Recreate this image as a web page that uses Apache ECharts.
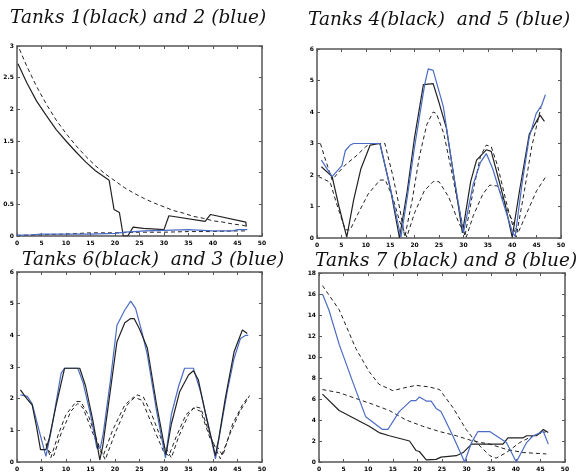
<!DOCTYPE html>
<html><head><meta charset="utf-8">
<script src="https://cdn.jsdelivr.net/npm/echarts@6/dist/echarts.min.js"></script>
<style>html,body{margin:0;padding:0;background:#fff}#c{width:576px;height:472px}</style>
</head><body><div id="c"></div>
<script>
// ---------- data ----------
const titles = ["Tanks 1(black) and 2 (blue)", "Tanks 4(black)  and 5 (blue)", "Tanks 6(black)  and 3 (blue)", "Tanks 7 (black) and 8 (blue)"];
const xTicks = [0,5,10,15,20,25,30,35,40,45,50];

// Panel 1 (tanks 1 and 2)
const p1BlackX = [0.2,2,4,6,8,10,12,14,16,18.8,19.8,20.9,21.7,22.6,23,23.7,25.8,30,31,38.4,39.5,46.7,46.8];
const p1BlackY = [2.72,2.42,2.13,1.9,1.68,1.5,1.33,1.17,1.03,0.88,0.42,0.37,0.0,0.0,0.02,0.14,0.12,0.1,0.32,0.23,0.34,0.22,0.15];
const p1BlueX = [0,3,5,10,15,20,22,24,26,30,35,40,44,45,47];
const p1BlueY = [0.01,0.02,0.03,0.03,0.03,0.04,0.06,0.07,0.08,0.09,0.1,0.08,0.08,0.1,0.1];
const p1DashAX = [0.5,2,4,6,8,10,12,14,16,18,20,22,24,26,28,30,32,34,36,38,40,42,44,46,47.2];
const p1DashAY = [2.95,2.68,2.36,2.08,1.83,1.62,1.43,1.26,1.11,0.98,0.87,0.76,0.67,0.59,0.52,0.46,0.4,0.36,0.31,0.28,0.24,0.22,0.19,0.17,0.15];
const p1DashBX = [0,5,10,15,20,25,30,35,40,45,47];
const p1DashBY = [0.01,0.02,0.03,0.05,0.05,0.06,0.06,0.07,0.07,0.08,0.08];

// Panel 2 (tanks 4 and 5)
const p2BlackX = [0.9,3.1,4.5,6.1,7.5,9,10.9,12.9,15,16.9,18.5,20,21.8,23.8,25,26.5,28,29.8,31.5,32.7,34.7,35.7,37,38.5,40,41.5,43.5,45.7,46.6];
const p2BlackY = [2.26,1.95,1.0,0.03,1.2,2.2,2.95,3.0,1.6,0.0,1.5,3.2,4.87,4.9,4.3,3.5,2.0,0.16,1.8,2.47,2.8,2.75,2.0,1.1,0.03,1.5,3.3,3.9,3.7];
const p2BlueX = [0.9,3.1,5.1,5.8,6.8,7.5,12.9,15,17,17.2,18.5,20,22.1,22.8,23.8,25.9,28,30,32,33.5,34.7,36,38,40.1,40.6,42,43.5,44.9,46,46.8];
const p2BlueY = [2.47,1.95,2.3,2.77,2.95,3.0,3.0,1.6,0.16,0.03,1.3,2.9,4.9,5.37,5.32,4.16,2.0,0.16,1.7,2.4,2.68,2.2,1.2,0.16,0.05,1.7,3.2,3.95,4.2,4.55];
const p2DashAX = [0.7,1.5,3.1,4.5,6,8,10,11,13.9,15.5,17,18,19.5,21,22.5,23.8,24.5,26,28,30.3,32,33.5,34.7,35.7,37,39,40.8,42.5,44,45.9];
const p2DashAY = [3.0,2.6,1.84,2.1,2.35,2.6,2.9,3.0,3.0,2.0,0.9,0.03,1.2,2.6,3.6,4.0,3.95,3.3,1.8,0.05,1.5,2.6,2.95,2.9,2.3,1.0,0.03,1.5,2.9,4.15];
const p2DashBX = [0.3,2.7,4,5.8,6.8,8.5,10.5,12.9,14,15.5,17,18.4,20,22,23.8,25,27,29,30.6,32,34,35.4,37,39,41.2,43,45,46.9];
const p2DashBY = [1.95,1.77,1.1,0.26,0.26,0.8,1.4,1.84,1.84,1.3,0.5,0.03,0.8,1.5,1.79,1.79,1.3,0.5,0.03,0.7,1.4,1.68,1.65,0.9,0.16,0.8,1.5,1.95];

// Panel 3 (tanks 6 and 3)
const p3BlackX = [0.7,2,3.1,4,4.8,5.9,6.6,8,9.7,12.8,14,15.5,16.9,17.5,19,20.4,22,23.2,23.9,25,26.6,28.5,30.4,31.5,33.2,35,36,37,38.5,40.5,41.2,42.5,44.3,46,47];
const p3BlackY = [2.28,2.0,1.8,1.1,0.39,0.39,0.76,1.8,2.96,2.96,2.4,1.3,0.07,0.5,2.2,3.8,4.4,4.53,4.53,4.2,3.6,1.8,0.23,1.2,2.22,2.75,2.88,2.6,1.5,0.2,0.76,2.0,3.48,4.17,4.06];
const p3BlueX = [0.7,2.1,3.1,4.5,5.9,7,8,9,9.7,12.4,13.5,15,16.3,17,17.6,19,20.4,22,23.2,24.2,25.5,26.6,28.5,30.3,31.5,33,34.2,36,37.5,39,40.5,41.5,43,44.3,45.6,46.7,47.2];
const p3BlueY = [2.12,2.07,1.84,1.0,0.18,1.0,1.9,2.8,2.96,2.96,2.5,1.5,0.44,0.44,0.9,2.5,4.32,4.8,5.08,4.85,4.1,3.38,1.6,0.13,1.5,2.4,2.96,2.96,2.2,1.2,0.1,1.0,2.3,3.27,3.9,4.0,4.0];
const p3DashAX = [5.9,6.9,8.5,10,12.1,13,14.5,16.5,18,20,22.5,24.5,25.8,27.5,29.5,31.5,33,35,36.3,37.5,39.5,41.5,43.5,45.5,47.4];
const p3DashAY = [0.55,0.13,0.9,1.5,1.91,1.91,1.5,0.6,0.07,0.9,1.8,2.12,2.05,1.5,0.7,0.13,0.8,1.5,1.75,1.7,0.8,0.1,0.9,1.6,2.07];
const p3DashBX = [5.5,6.5,7.5,9,11,12.4,13.5,15.5,17,17.6,19.5,22,23.8,25.5,27.5,30,31,32.5,34.5,36,37.5,39.5,40.8,42,44,46,47.4];
const p3DashBY = [0.8,0.35,0.2,0.9,1.6,1.85,1.7,0.9,0.35,0.2,1.0,1.8,2.05,1.95,1.2,0.3,0.2,0.8,1.5,1.7,1.6,0.7,0.5,0.2,1.2,1.8,2.1];

// Panel 4 (tanks 7 and 8)
const p4BlackX = [0.7,4.1,10.2,12.2,14.3,18.4,19.7,20.4,21.8,23.8,24.8,27.9,29.3,31,34.7,37.4,38.4,41.5,42.2,44.2,45.6,46.6];
const p4BlackY = [6.46,4.9,3.4,2.8,2.5,2.0,1.1,1.0,0.2,0.25,0.46,0.6,0.9,1.7,1.7,1.7,2.3,2.3,2.5,2.5,3.1,2.8];
const p4BlueX = [0.7,2.0,4.1,6.8,9.5,12.9,14,16.3,18.7,19.7,20.4,21.8,22.8,23.8,24.8,27.2,29.6,31,32.3,34.7,35.7,38.1,40.1,42.2,43.5,45.6,46.6];
const p4BlueY = [16.0,14.5,11.2,7.7,4.3,3.1,3.1,4.8,5.85,5.85,6.2,5.8,5.8,5.1,4.8,2.5,0.0,1.85,2.9,2.9,2.6,1.85,0.0,1.85,2.5,2.9,1.7];
const p4DashAX = [0.7,4.1,7.5,10.2,12.2,15,17.7,19.7,22.4,24.5,27.2,29.9,32,34.7,36,38.1,40.8,43.5,46.2];
const p4DashAY = [16.8,14.5,10.8,8.6,7.4,6.8,7.1,7.3,7.15,6.9,5.2,3.1,1.85,0.6,0.37,0.9,1.85,2.5,2.9];
const p4DashBX = [0.7,4.1,10.9,14.3,17.7,21.1,24.5,27.9,31.3,34.7,38.1,41.5,46.2];
const p4DashBY = [6.9,6.6,5.5,4.9,4.0,3.4,2.9,2.5,2.0,1.7,1.2,0.9,0.77];

const yMax = [3, 6, 6, 18];
const yStep = [0.5, 1, 1, 2];

// ---------- chart ----------
const zip = (xs, ys) => xs.map((x, i) => [x, ys[i]]);
const BLACK = '#222', BLUE = '#4a6cc4', AXC = '#555';

const grids = [
  {left: 17, top: 46, width: 245, height: 190},
  {left: 317, top: 49, width: 244, height: 189},
  {left: 17, top: 272, width: 245, height: 193},
  {left: 319, top: 273, width: 246, height: 192}
];
const titlePos = [[10, 9], [308, 11], [22, 251], [315, 252]];

const xAxis = [], yAxis = [], series = [];
grids.forEach((g, i) => {
  const common = {
    type: 'value', gridIndex: i, min: 0, max: 50, interval: 5,
    axisLine: {show: true, onZero: false, lineStyle: {color: AXC, width: 1.5}},
    axisTick: {show: true, inside: true, length: 3, lineStyle: {color: AXC}},
    splitLine: {show: false}
  };
  xAxis.push(Object.assign({}, common, {position: 'bottom',
    axisLabel: {fontSize: 6, fontWeight: 'bold', color: '#000', margin: 4, fontFamily: 'DejaVu Sans'}}));
  xAxis.push(Object.assign({}, common, {position: 'top', axisLabel: {show: false}}));
  const yc = {
    type: 'value', gridIndex: i, min: 0, max: yMax[i], interval: yStep[i],
    axisLine: {show: true, onZero: false, lineStyle: {color: AXC, width: 1.5}},
    axisTick: {show: true, inside: true, length: 3, lineStyle: {color: AXC}},
    splitLine: {show: false}
  };
  yAxis.push(Object.assign({}, yc, {position: 'left',
    axisLabel: {fontSize: 6, fontWeight: 'bold', color: '#000', margin: 3, fontFamily: 'DejaVu Sans'}}));
  yAxis.push(Object.assign({}, yc, {position: 'right', axisLabel: {show: false}}));
});

function addLine(i, data, color, dashed) {
  series.push({
    type: 'line', xAxisIndex: 2 * i, yAxisIndex: 2 * i, data: data,
    showSymbol: false, symbol: 'none', animation: false, clip: true,
    lineStyle: {color: color, width: dashed ? 1 : 1.2, type: dashed ? [4, 3] : 'solid'}
  });
}
addLine(0, zip(p1DashAX, p1DashAY), BLACK, true);
addLine(0, zip(p1DashBX, p1DashBY), BLACK, true);
addLine(0, zip(p1BlackX, p1BlackY), BLACK, false);
addLine(0, zip(p1BlueX, p1BlueY), BLUE, false);

addLine(1, zip(p2DashAX, p2DashAY), BLACK, true);
addLine(1, zip(p2DashBX, p2DashBY), BLACK, true);
addLine(1, zip(p2BlackX, p2BlackY), BLACK, false);
addLine(1, zip(p2BlueX, p2BlueY), BLUE, false);

addLine(2, zip(p3DashAX, p3DashAY), BLACK, true);
addLine(2, zip(p3DashBX, p3DashBY), BLACK, true);
addLine(2, zip(p3BlueX, p3BlueY), BLUE, false);
addLine(2, zip(p3BlackX, p3BlackY), BLACK, false);

addLine(3, zip(p4DashAX, p4DashAY), BLACK, true);
addLine(3, zip(p4DashBX, p4DashBY), BLACK, true);
addLine(3, zip(p4BlackX, p4BlackY), BLACK, false);
addLine(3, zip(p4BlueX, p4BlueY), BLUE, false);

const chart = echarts.init(document.getElementById('c'), null, {renderer: 'canvas'});
chart.setOption({
  backgroundColor: '#fff',
  animation: false,
  title: titles.map((t, i) => ({
    text: t, left: titlePos[i][0], top: titlePos[i][1], padding: 0,
    textStyle: {fontFamily: 'DejaVu Serif', fontStyle: 'italic', fontWeight: 'normal', fontSize: 18.5, color: '#111'}
  })),
  grid: grids.map(g => Object.assign({show: false, containLabel: false}, g)),
  xAxis: xAxis,
  yAxis: yAxis,
  series: series
});
</script></body></html>
